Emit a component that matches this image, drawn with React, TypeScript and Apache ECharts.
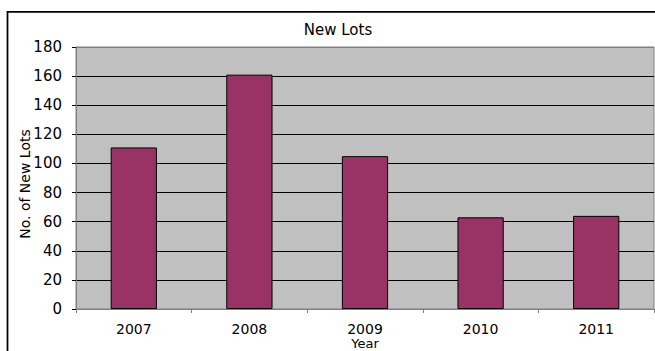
import React, { useEffect, useRef } from "react";
import * as echarts from "echarts";

const years = ["2007", "2008", "2009", "2010", "2011"];
const newLots = [111, 161, 105, 63, 64];
const yTicks = { min: 0, max: 180, interval: 20 };

const FONT = "'DejaVu Sans', Verdana, sans-serif";

export default function App() {
  const ref = useRef<HTMLDivElement>(null);

  useEffect(() => {
    if (!ref.current) return;
    const chart = echarts.init(ref.current, null, { renderer: "svg" });
    // plot-area edges (0 and 180) share the grey frame colour, inner lines are black
    const gridLineColors = ["#808080"]
      .concat(Array(8).fill("#000000"))
      .concat(["#808080"]);
    chart.setOption({
      animation: false,
      backgroundColor: "#ffffff",
      textStyle: { fontFamily: FONT },
      title: {
        text: "New Lots",
        left: 338,
        top: 22,
        padding: 0,
        textAlign: "center",
        textStyle: { fontFamily: FONT, fontSize: 15, fontWeight: "normal", color: "#000" },
      },
      graphic: [
        {
          type: "rect",
          shape: { x: 7.5, y: 11.8, width: 720, height: 400 },
          style: { fill: "none", stroke: "#000", lineWidth: 1.75 },
          silent: true,
        },
      ],
      grid: {
        left: 76,
        top: 47,
        width: 578,
        height: 262,
        outerBoundsMode: "none",
        containLabel: false,
        show: true,
        backgroundColor: "#c0c0c0",
        borderColor: "#808080",
        borderWidth: 1,
      },
      xAxis: {
        type: "category",
        data: years,
        name: "Year",
        nameLocation: "middle",
        nameGap: 27,
        nameMoveOverlap: false,
        nameTextStyle: { fontFamily: FONT, fontSize: 13, lineHeight: 15, color: "#000" },
        axisLine: { lineStyle: { color: "#808080", width: 1 } },
        axisTick: { show: true, length: 4, lineStyle: { color: "#808080" } },
        axisLabel: { fontFamily: FONT, fontSize: 14, lineHeight: 14, color: "#000", margin: 13 },
      },
      yAxis: {
        type: "value",
        min: yTicks.min,
        max: yTicks.max,
        interval: yTicks.interval,
        name: "No. of New Lots",
        nameLocation: "middle",
        nameRotate: 90,
        nameGap: 44,
        nameMoveOverlap: false,
        nameTextStyle: { fontFamily: FONT, fontSize: 14, color: "#000", padding: [0, 12, 0, 0] },
        axisLine: { show: true, lineStyle: { color: "#808080", width: 1 } },
        axisTick: { show: true, length: 4, lineStyle: { color: "#000" } },
        axisLabel: { fontFamily: FONT, fontSize: 15, color: "#000", margin: 14 },
        splitLine: { show: true, lineStyle: { color: gridLineColors, width: 1 } },
      },
      series: [
        {
          type: "bar",
          data: newLots,
          barWidth: "40%",
          itemStyle: { color: "#993366", borderColor: "#000", borderWidth: 1 },
        },
      ],
    });
    return () => chart.dispose();
  }, []);

  return (
    <div
      ref={ref}
      style={{ position: "absolute", left: 0, top: 0, width: 655, height: 351 }}
    />
  );
}
